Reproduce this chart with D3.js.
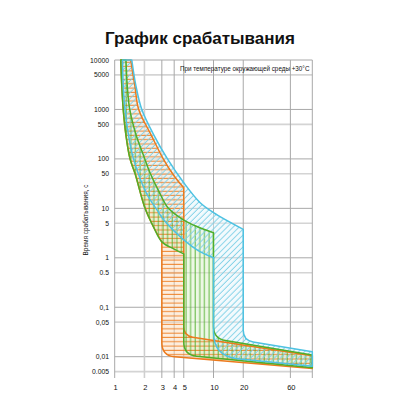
<!DOCTYPE html>
<html>
<head>
<meta charset="utf-8">
<script src="https://cdn.jsdelivr.net/npm/d3@7"></script>
<style>
	body { margin: 0; background: #fff; }
	text { font-family: "Liberation Sans", Arial, sans-serif; fill: #111; }
</style>
</head>
<body>
<div id="chart"></div>
<script>
// x = current multiple (I/In), t = trip time, s
var xTicks = [1, 2, 3, 4, 5, 10, 20, 60];
var yTicks = [10000, 5000, 1000, 500, 100, 50, 10, 5, 1, 0.5, 0.1, 0.05, 0.01, 0.005];
var yTickLabels = ["10000", "5000", "1000", "500", "100", "50", "10", "5", "1", "0.5", "0,1", "0,05", "0,01", "0.005"];

// orange band (3..5)
var bMin = [[1.15, 10000], [1.18, 3000], [1.22, 1000], [1.3, 300], [1.43, 100], [1.61, 50], [2.03, 10], [2.5, 4], [3, 2.1]];
var bMax = [[1.45, 10000], [1.6, 3000], [1.75, 1000], [2.35, 300], [3.1, 100], [4, 45], [5, 26]];
var bInstMin = [[3, 0.0105], [100, 0.0058]];
var bInstMax = [[5, 0.0264], [100, 0.0105]];

// green band (5..10)
var cMin = [[1.15, 10000], [1.18, 3000], [1.22, 1000], [1.3, 300], [1.43, 100], [1.61, 50], [2.03, 10], [2.5, 4], [3, 2.1], [4, 1.5], [5, 1.2]];
var cMax = [[1.3, 10000], [1.34, 3000], [1.42, 1000], [1.65, 300], [1.95, 120], [2.3, 50], [2.8, 22], [3.5, 10], [5, 5.8], [7, 4.2], [10, 3.2]];
var cInstMin = [[5, 0.0108], [100, 0.006]];
var cInstMax = [[10, 0.0234], [100, 0.0108]];

// cyan band (10..20)
var dMin = [[1.2, 10000], [1.22, 3000], [1.27, 1000], [1.38, 300], [1.55, 100], [2.1, 20], [2.66, 9.5], [3.1, 6], [5, 2.3], [7, 1.4], [10, 1]];
var dMax = [[1.49, 10000], [1.64, 3000], [1.88, 1000], [2.5, 300], [3.42, 100], [5, 33], [7.33, 13], [10, 8.2], [20, 3.76]];
var dInstMin = [[10, 0.0102], [100, 0.0064]];
var dInstMax = [[20, 0.0214], [100, 0.0126]];

var width = 400, height = 400;
var plot = { left: 114.7, right: 312.3, top: 60, bottom: 378 };

var x = d3.scaleLog().domain([1, 100]).range([plot.left, plot.right]);
var y = d3.scaleLog().domain([0.01, 10000]).range([356.7, plot.top]);

var svg = d3.select("#chart").append("svg")
	.attr("width", width)
	.attr("height", height);

var defs = svg.append("defs");

function hatch(id, w, h, x1, y1, x2, y2, color, sw, rot) {
	var p = defs.append("pattern")
		.attr("id", id)
		.attr("patternUnits", "userSpaceOnUse")
		.attr("width", w)
		.attr("height", h);
	if (rot) p.attr("patternTransform", "rotate(" + rot + ")");
	p.append("line")
		.attr("x1", x1).attr("y1", y1)
		.attr("x2", x2).attr("y2", y2)
		.attr("stroke", color)
		.attr("stroke-width", sw);
}
hatch("hOrange", 10, 4.3, 0, 2, 10, 2, "#ec7a1c", 0.9);
hatch("vGreen", 4.6, 10, 2, 0, 2, 10, "#4fae2a", 0.9);
hatch("dCyan", 4.2, 10, 2, 0, 2, 10, "#7ccfe6", 0.9, 45);

// grid
var yMajor = [10000, 1000, 100, 10, 1, 0.1, 0.01];
svg.append("g").selectAll("line")
	.data(yTicks)
	.enter().append("line")
	.attr("x1", plot.left).attr("x2", plot.right)
	.attr("y1", function(d) { return y(d); })
	.attr("y2", function(d) { return y(d); })
	.attr("stroke", function(d) { return yMajor.indexOf(d) >= 0 ? "#a8a8a8" : "#d4d4d4"; })
	.attr("stroke-width", function(d) { return yMajor.indexOf(d) >= 0 ? 1 : 1.6; });

svg.append("g").selectAll("line")
	.data(xTicks.concat([100]))
	.enter().append("line")
	.attr("y1", plot.top).attr("y2", plot.bottom)
	.attr("x1", function(d) { return x(d); })
	.attr("x2", function(d) { return x(d); })
	.attr("stroke", function(d) { return d === 2 ? "#cfcfcf" : "#a8a8a8"; })
	.attr("stroke-width", function(d) { return d === 2 ? 1.6 : 1; });

// tick labels
svg.append("g").selectAll("text")
	.data(yTicks)
	.enter().append("text")
	.attr("x", 109)
	.attr("y", function(d) { return y(d) + 2.5; })
	.attr("text-anchor", "end")
	.style("font-size", "6.8px")
	.text(function(d, i) { return yTickLabels[i]; });

svg.append("g").selectAll("text")
	.data(xTicks)
	.enter().append("text")
	.attr("x", function(d) { return x(d) + 1; })
	.attr("y", 390)
	.attr("text-anchor", "middle")
	.style("font-size", "7.5px")
	.text(function(d) { return d; });

// band outlines
var curve = d3.line().curve(d3.curveCatmullRom.alpha(0.5));

function px(p) { return [x(p[0]), y(p[1])]; }

function toward(a, b, r) {
	var dx = b[0] - a[0], dy = b[1] - a[1];
	var len = Math.sqrt(dx * dx + dy * dy);
	return [a[0] + dx / len * r, a[1] + dy / len * r];
}

function bandPath(tMin, instMin, instMax, tMax, rLow, rHigh) {
	var minPts = tMin.map(px),
		maxPts = tMax.slice().reverse().map(px);
	var lowC = px(instMin[0]), lowEnd = px(instMin[1]);
	var highC = px(instMax[0]), highEnd = px(instMax[1]);
	var last = minPts[minPts.length - 1];

	var s = curve(minPts);
	var a = toward(lowC, last, rLow), b = toward(lowC, lowEnd, rLow);
	s += "L" + a + "Q" + lowC + " " + b + "L" + lowEnd;
	s += "L" + highEnd;
	var first = maxPts[0];
	var c = toward(highC, highEnd, rHigh), e = toward(highC, first, rHigh);
	s += "L" + c + "Q" + highC + " " + e;
	s += curve(maxPts).replace("M", "L") + "Z";
	return s;
}

var bands = [
	{ path: bandPath(bMin, bInstMin, bInstMax, bMax, 13, 9), color: "#ec7a1c", tint: "#fbd9b5", hatch: "hOrange" },
	{ path: bandPath(cMin, cInstMin, cInstMax, cMax, 13, 12), color: "#4fae2a", tint: "#d8efc4", hatch: "vGreen" },
	{ path: bandPath(dMin, dInstMin, dInstMax, dMax, 24, 10), color: "#4ec2e2", tint: "#e4f5fb", hatch: "dCyan" }
];

var g = svg.append("g");
bands.forEach(function(bd) {
	g.append("path").attr("d", bd.path).attr("fill", bd.tint).attr("fill-opacity", 0.45);
});
bands.forEach(function(bd) {
	g.append("path").attr("d", bd.path).attr("fill", "url(#" + bd.hatch + ")");
});
bands.forEach(function(bd) {
	g.append("path").attr("d", bd.path)
		.attr("fill", "none")
		.attr("stroke", bd.color)
		.attr("stroke-width", 1.5)
		.attr("stroke-linejoin", "round");
});

// texts
svg.append("text")
	.attr("x", 200).attr("y", 44)
	.attr("text-anchor", "middle")
	.style("font-size", "17px")
	.style("font-weight", "bold")
	.text("График срабатывания");

svg.append("text")
	.attr("x", 180).attr("y", 71)
	.style("font-size", "6.3px")
	.text("При температуре окружающей среды +30°C");

svg.append("text")
	.attr("transform", "translate(88,220) rotate(-90)")
	.attr("text-anchor", "middle")
	.style("font-size", "6.5px")
	.text("Время срабатывания, с");
</script>
</body>
</html>
